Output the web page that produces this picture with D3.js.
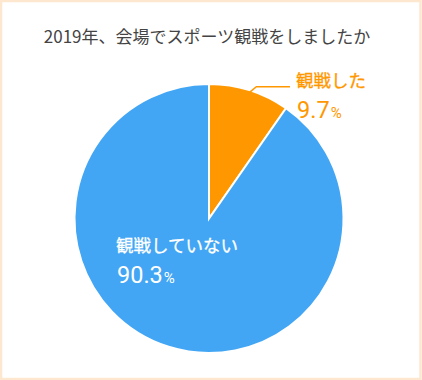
<!DOCTYPE html>
<html>
<head>
<meta charset="utf-8">
<script src="https://cdn.jsdelivr.net/npm/d3@7"></script>
<style>
  html, body { margin: 0; padding: 0; background: #fff; }
  svg { display: block; font-family: "Noto Sans CJK JP", "Noto Sans", sans-serif; }
</style>
</head>
<body>
<div id="chart"></div>
<script>
// data
var title = "2019年、会場でスポーツ観戦をしましたか";
var categories = ["観戦した", "観戦していない"];
var values = [9.7, 90.3];

// size setup
var width = 422, height = 380;
var cx = 209, cy = 218.5, radius = 134.5;

var color = d3.scaleOrdinal().domain(categories).range(["#ff9800", "#42a6f5"]);

var svg = d3.select("#chart").append("svg")
    .attr("width", width)
    .attr("height", height);

// frame
svg.append("rect")
    .attr("x", 1).attr("y", 1)
    .attr("width", width - 2.5).attr("height", height - 2)
    .attr("fill", "#fff")
    .attr("stroke", "#fde8cf")
    .attr("stroke-width", 2.5);

svg.append("text")
    .attr("x", 207).attr("y", 42.5)
    .attr("text-anchor", "middle")
    .attr("font-size", 17)
    .attr("fill", "#444")
    .text(title);

var pie = d3.pie().sort(null).value(function(d, i){ return values[i]; });
var arc = d3.arc().innerRadius(0).outerRadius(radius);

var cht = svg.append("g").attr("transform", "translate(" + cx + "," + cy + ")");

cht.selectAll("path")
    .data(pie(categories))
    .enter()
    .append("path")
    .attr("d", arc)
    .attr("fill", function(d){ return color(d.data); })
    .attr("stroke", "#fff")
    .attr("stroke-width", 2);

// leader line for the small slice
var slices = pie(categories);
var mid = (slices[0].startAngle + slices[0].endAngle) / 2;
var p0 = [Math.sin(mid) * radius, -Math.cos(mid) * radius];
svg.append("polyline")
    .attr("points", [
        [cx + p0[0] + 0.5, cy + p0[1] + 2],
        [cx + p0[0] + 7, cy + p0[1] - 3.5],
        [290, cy + p0[1] - 3.5]
    ].map(function(p){ return p.join(","); }).join(" "))
    .attr("fill", "none")
    .attr("stroke", color(categories[0]))
    .attr("stroke-width", 1.5);

function label(x, y, name, value, fill){
    svg.append("text")
        .attr("x", x).attr("y", y)
        .attr("font-size", 17.5)
        .attr("fill", fill)
        .attr("stroke", fill)
        .attr("stroke-width", 0.3)
        .text(name);
    var t = svg.append("text")
        .attr("x", x + 1).attr("y", y + 31)
        .attr("font-family", "Roboto, 'Noto Sans', sans-serif")
        .attr("font-size", 23.5)
        .attr("fill", fill);
    t.append("tspan").text(value.toFixed(1));
    t.append("tspan").attr("font-size", 15).attr("dx", 1).text("%");
}

label(296, 87, categories[0], values[0], color(categories[0]));
label(116, 252, categories[1], values[1], "#fff");
</script>
</body>
</html>
